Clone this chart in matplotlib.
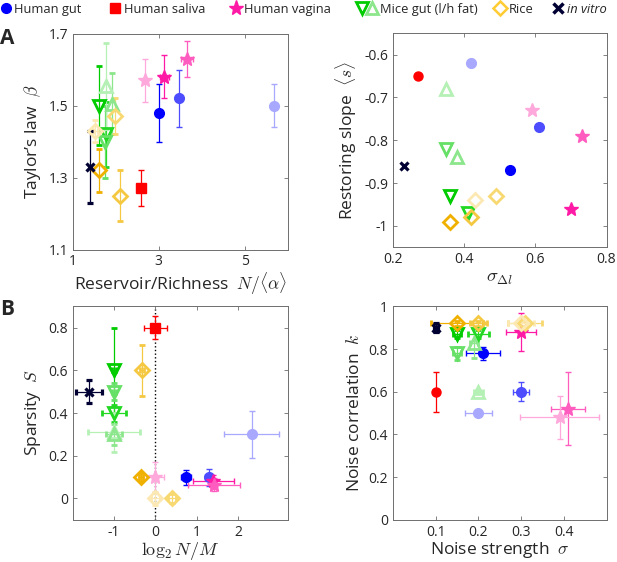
import matplotlib as mpl
import matplotlib.pyplot as plt
from matplotlib.lines import Line2D
from matplotlib.legend_handler import HandlerTuple

mpl.rcParams.update({
    "font.family": ["Open Sans", "DejaVu Sans"],
    "mathtext.fontset": "cm",
    "axes.unicode_minus": False,
})

# dataset order shared by every panel
KEYS = ["gut1", "gut2", "gut3", "saliva", "vag1", "vag2", "vag3",
        "mice_l1", "mice_l2", "mice_l3", "mice_h1", "mice_h2",
        "rice1", "rice2", "rice3", "rice4", "vitro"]

# Panel A left: Taylor's law exponent vs reservoir/richness
A_x = [3.00, 3.48, 5.68, 2.58, 3.13, 3.67, 2.69, 1.61, 1.78, 1.75, 1.78, 1.92, 1.61, 2.09, 1.99, 1.52, 1.39]
A_y = [1.48, 1.52, 1.50, 1.27, 1.58, 1.63, 1.57, 1.50, 1.42, 1.40, 1.555, 1.505, 1.32, 1.25, 1.47, 1.43, 1.33]
A_xerr = [0, 0, 0, 0, 0.10, 0.14, 0, 0, 0, 0, 0, 0, 0, 0, 0, 0.06, 0]
A_yerr = [0.08, 0.08, 0.06, 0.05, 0.06, 0.05, 0.06, 0.11, 0.09, 0.10, 0.12, 0.085, 0.06, 0.07, 0.05, 0.03, 0.10]

# Panel A right: restoring slope vs sigma_dl
R_x = [0.53, 0.61, 0.42, 0.27, 0.70, 0.73, 0.59, 0.36, 0.41, 0.35, 0.35, 0.38, 0.36, 0.42, 0.49, 0.43, 0.23]
R_y = [-0.87, -0.77, -0.62, -0.65, -0.96, -0.79, -0.73, -0.93, -0.97, -0.82, -0.68, -0.84, -0.99, -0.98, -0.93, -0.94, -0.86]

# Panel B left: sparsity vs log2 N/M
S_x = [0.75, 1.30, 2.33, 0.0, 1.40, 1.42, 0.0, -1.0, -1.0, -1.0, -1.0, -1.0, -0.34, -0.32, 0.40, 0.0, -1.61]
S_y = [0.10, 0.10, 0.30, 0.80, 0.08, 0.065, 0.10, 0.60, 0.40, 0.50, 0.31, 0.30, 0.10, 0.60, 0.0, 0.0, 0.50]
S_xerr = [0.12, 0.10, 0.67, 0.27, 0.50, 0.62, 0.22, 0.05, 0.30, 0.05, 0.62, 0.20, 0.05, 0.05, 0.10, 0.10, 0.32]
S_yerr = [0.035, 0.04, 0.11, 0.055, 0.03, 0.03, 0.07, 0.20, 0.04, 0.04, 0.09, 0.05, 0.02, 0.12, 0.02, 0.03, 0.055]

# Panel B right: noise correlation vs noise strength
K_x = [0.21, 0.30, 0.20, 0.10, 0.30, 0.41, 0.39, 0.15, 0.20, 0.15, 0.20, 0.19, 0.15, 0.20, 0.31, 0.30, 0.10]
K_y = [0.78, 0.60, 0.50, 0.60, 0.88, 0.52, 0.48, 0.87, 0.87, 0.78, 0.60, 0.83, 0.92, 0.92, 0.92, 0.92, 0.90]
K_xerr = [0.04, 0.018, 0.031, 0.0, 0.035, 0.04, 0.093, 0.01, 0.025, 0.01, 0.01, 0.01, 0.06, 0.02, 0.04, 0.03, 0.005]
K_yerr = [0.03, 0.045, 0.01, 0.093, 0.09, 0.17, 0.10, 0.02, 0.02, 0.03, 0.01, 0.07, 0.01, 0.01, 0.01, 0.01, 0.02]

LEGEND_LABELS = ["Human gut", "Human saliva", "Human vagina", "Mice gut (l/h fat)", "Rice", "in vitro"]

# marker, colour, filled, size, edge width
STYLE = {
    "gut1": ("o", "#0000ff", True, 7, 1),
    "gut2": ("o", "#4d4dff", True, 7, 1),
    "gut3": ("o", "#a8a8ff", True, 7, 1),
    "saliva": ("s", "#ff0000", True, 6.5, 1),
    "vag1": ("*", "#ff1aa6", True, 10.5, 1),
    "vag2": ("*", "#ff5cbf", True, 10.5, 1),
    "vag3": ("*", "#ffa8dc", True, 10.5, 1),
    "mice_l1": ("v", "#00cc00", False, 8.5, 2),
    "mice_l2": ("v", "#22d822", False, 8.5, 2),
    "mice_l3": ("v", "#66e066", False, 8.5, 2),
    "mice_h1": ("^", "#b5f0b5", False, 8.5, 2),
    "mice_h2": ("^", "#8ce68c", False, 8.5, 2),
    "rice1": ("D", "#f0b000", False, 7.2, 2),
    "rice2": ("D", "#f5c842", False, 7.2, 2),
    "rice3": ("D", "#f8d870", False, 7.2, 2),
    "rice4": ("D", "#fbe8b2", False, 7.2, 2),
    "vitro": ("x", "#000033", False, 5.5, 2.3),
}

TXT = "#262626"
BOX = "#6e6e6e"
LABEL_FS = 12.5


def style_axes(ax):
    ax.tick_params(direction="in", top=True, right=True, length=3, width=0.6,
                   colors=BOX, labelcolor=TXT, labelsize=10)
    for sp in ax.spines.values():
        sp.set_color(BOX)
        sp.set_linewidth(0.7)


def draw(ax, xs, ys, xerr=None, yerr=None, marker_override=None):
    marker_override = marker_override or {}
    for i, k in enumerate(KEYS):
        m, c, filled, ms, mew = STYLE[k]
        m = marker_override.get(k, m)
        xe = None if xerr is None or xerr[i] == 0 else xerr[i]
        ye = None if yerr is None or yerr[i] == 0 else yerr[i]
        ax.errorbar(xs[i], ys[i], xerr=xe, yerr=ye, fmt=m, color=c, ms=ms,
                    mfc=c if filled else "none", mec=c, mew=mew,
                    elinewidth=0.9, capsize=2.5, capthick=0.9, zorder=3)


fig = plt.figure(figsize=(6.17, 5.62), dpi=100)
axA1 = fig.add_axes([0.118, 0.556, 0.348, 0.384])
axA2 = fig.add_axes([0.637, 0.560, 0.346, 0.381])
axB1 = fig.add_axes([0.118, 0.075, 0.348, 0.380])
axB2 = fig.add_axes([0.637, 0.075, 0.346, 0.380])

# A left
draw(axA1, A_x, A_y, A_xerr, A_yerr)
axA1.set_xlim(1, 6)
axA1.set_ylim(1.1, 1.7)
axA1.set_xticks([1, 3, 5])
axA1.set_yticks([1.1, 1.3, 1.5, 1.7])
axA1.set_xlabel(r"Reservoir/Richness  $N/\langle\alpha\rangle$", fontsize=LABEL_FS, color=TXT, labelpad=1)
axA1.set_ylabel(r"Taylor’s law  $\beta$", fontsize=LABEL_FS, color=TXT, labelpad=4)

# A right (saliva drawn as a circle here)
draw(axA2, R_x, R_y, marker_override={"saliva": "o"})
axA2.set_xlim(0.2, 0.8)
axA2.set_ylim(-1.05, -0.55)
axA2.set_xticks([0.2, 0.4, 0.6, 0.8])
axA2.set_yticks([-1, -0.9, -0.8, -0.7, -0.6])
axA2.set_yticklabels(["-1", "-0.9", "-0.8", "-0.7", "-0.6"])
axA2.set_xlabel(r"$\sigma_{\Delta l}$", fontsize=13.5, color=TXT, labelpad=1)
axA2.set_ylabel(r"Restoring slope  $\langle s\rangle$", fontsize=LABEL_FS, color=TXT, labelpad=4)

# B left
axB1.axvline(0, color="black", ls=":", lw=1, zorder=1)
draw(axB1, S_x, S_y, S_xerr, S_yerr)
axB1.set_xlim(-2, 3.2)
axB1.set_ylim(-0.1, 0.9)
axB1.set_xticks([-1, 0, 1, 2])
axB1.set_yticks([0, 0.2, 0.4, 0.6, 0.8])
axB1.set_yticklabels(["0", "0.2", "0.4", "0.6", "0.8"])
axB1.set_xlabel(r"$\log_2 N/M$", fontsize=13, color=TXT, labelpad=0)
axB1.set_ylabel(r"Sparsity  $S$", fontsize=LABEL_FS, color=TXT, labelpad=4)

# B right
draw(axB2, K_x, K_y, K_xerr, K_yerr, marker_override={"saliva": "o"})
axB2.set_xlim(0, 0.5)
axB2.set_ylim(0, 1)
axB2.set_xticks([0.1, 0.2, 0.3, 0.4])
axB2.set_yticks([0, 0.2, 0.4, 0.6, 0.8, 1])
axB2.set_yticklabels(["0", "0.2", "0.4", "0.6", "0.8", "1"])
axB2.set_xlabel(r"Noise strength  $\sigma$", fontsize=LABEL_FS, color=TXT, labelpad=0)
axB2.set_ylabel(r"Noise correlation  $k$", fontsize=LABEL_FS, color=TXT, labelpad=4)

for ax in (axA1, axA2, axB1, axB2):
    style_axes(ax)

fig.text(0.0, 0.921, "A", fontsize=15, fontweight="bold", color=TXT)
fig.text(0.0, 0.44, "B", fontsize=15, fontweight="bold", color=TXT)

# legend across the top, one entry at a time so the spacing follows the original
h_gut = Line2D([], [], ls="none", marker="o", color="#0000ff", ms=7)
h_sal = Line2D([], [], ls="none", marker="s", color="#ff0000", ms=6.5)
h_vag = Line2D([], [], ls="none", marker="*", color="#ff1aa6", ms=11)
h_ml = Line2D([], [], ls="none", marker="v", color="#00cc00", mfc="none", mew=2, ms=8)
h_mh = Line2D([], [], ls="none", marker="^", color="#8ce68c", mfc="none", mew=2, ms=8)
h_rice = Line2D([], [], ls="none", marker="D", color="#ffcc33", mfc="none", mew=1.8, ms=7)
h_vit = Line2D([], [], ls="none", marker="x", color="#000033", mew=2.5, ms=6.5)
handles = [h_gut, h_sal, h_vag, (h_ml, h_mh), h_rice, h_vit]
anchors = [-0.004, 0.173, 0.369, 0.574, 0.797, 0.891]
hlens = [0.9, 0.9, 0.9, 1.6, 0.9, 0.9]
for h, lab, xa, hl in zip(handles, LEGEND_LABELS, anchors, hlens):
    leg = fig.legend([h], [lab], loc="upper left", bbox_to_anchor=(xa, 1.0),
                     frameon=False, fontsize=9.3, handlelength=hl, handletextpad=0.2,
                     borderpad=0.2, borderaxespad=0,
                     handler_map={tuple: HandlerTuple(ndivide=None, pad=0.05)})
    t = leg.get_texts()[0]
    t.set_color(TXT)
    if lab == "in vitro":
        t.set_fontstyle("italic")

fig.savefig("out.png", dpi=100)
